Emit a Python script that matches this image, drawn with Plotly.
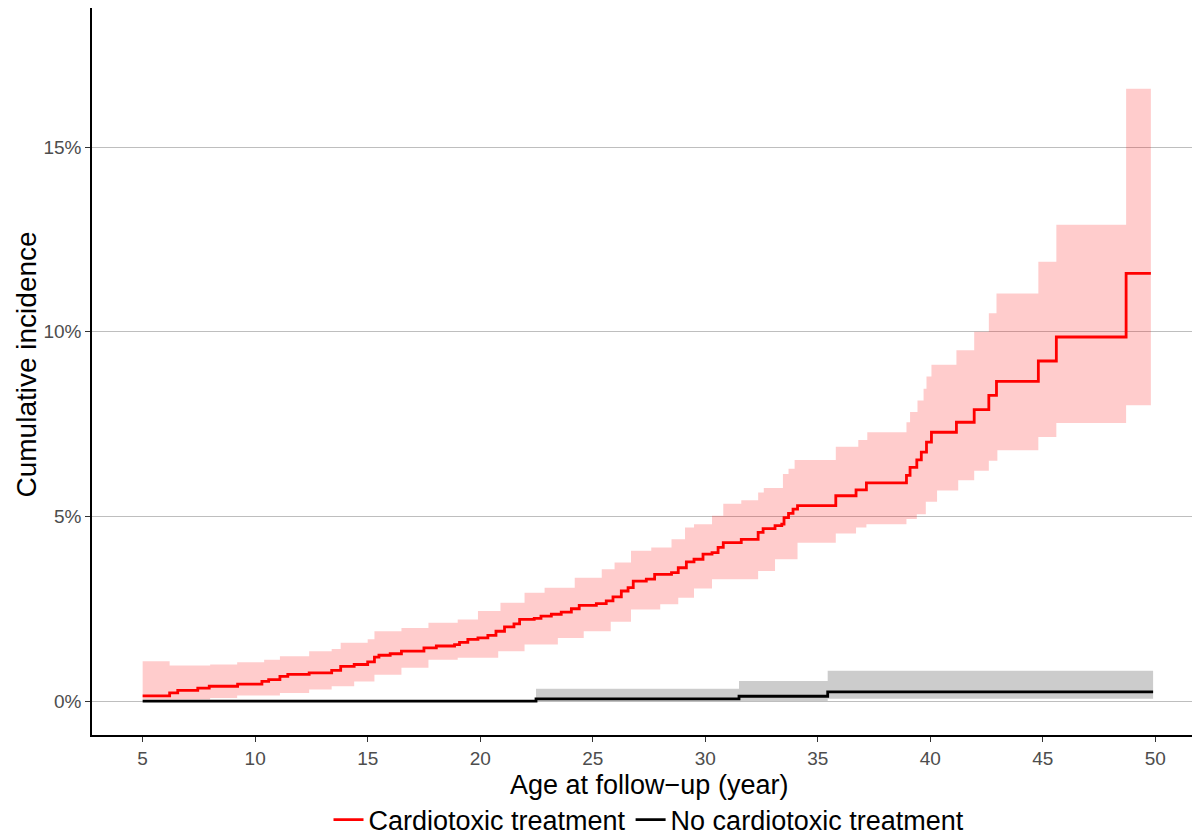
import plotly.graph_objects as go

# Cardiotoxic treatment: cumulative incidence (%) step function
ct_time = [5.0, 6.2, 6.56, 7.45, 7.96, 9.22, 10.3, 10.6, 11.1, 11.45, 12.4, 13.4, 13.8, 14.4, 15.0,
           15.3, 15.5, 16.0, 16.5, 17.5, 18.05, 18.86, 19.08, 19.45, 19.9, 20.34, 20.7, 21.08, 21.5,
           21.75, 22.4, 22.7, 23.16, 23.6, 24.05, 24.4, 25.16, 25.6, 25.9, 26.27, 26.57, 26.8, 27.38,
           27.75, 28.5, 28.8, 29.16, 29.5, 29.9, 30.3, 30.57, 30.8, 31.6, 32.35, 32.57, 33.1, 33.4,
           33.5, 33.7, 33.9, 34.1, 35.8, 36.7, 37.16, 38.94, 39.1, 39.4, 39.6, 39.83, 40.05, 41.16,
           41.95, 42.6, 42.94, 44.8, 45.6, 48.7, 49.8]
ct_est = [0.14, 0.22, 0.29, 0.35, 0.40, 0.46, 0.53, 0.58, 0.67, 0.72, 0.76, 0.83, 0.94, 0.99, 1.06,
          1.19, 1.24, 1.28, 1.35, 1.44, 1.49, 1.53, 1.59, 1.67, 1.71, 1.78, 1.89, 2.01, 2.09,
          2.21, 2.24, 2.30, 2.35, 2.41, 2.50, 2.59, 2.64, 2.71, 2.82, 2.98, 3.07, 3.25, 3.30,
          3.43, 3.48, 3.61, 3.77, 3.84, 3.98, 4.02, 4.16, 4.29, 4.38, 4.57, 4.67, 4.75, 4.79,
          4.97, 5.08, 5.20, 5.29, 5.56, 5.72, 5.91, 6.11, 6.33, 6.53, 6.74, 7.01, 7.28, 7.55,
          7.89, 8.28, 8.66, 9.21, 9.86, 11.58, 11.58]

ct_up_time = [5.0, 6.2, 8.0, 9.2, 10.4, 11.1, 12.4, 13.4, 13.8, 15.0, 15.3, 16.5, 17.7, 19.0, 19.9,
              20.9, 21.97, 22.86, 24.2, 25.4, 25.97, 26.7, 27.6, 28.5, 29.1, 29.5, 30.3, 30.8, 31.6,
              32.35, 32.6, 33.45, 33.7, 33.97, 35.8, 36.8, 37.2, 38.94, 39.1, 39.43, 39.7, 39.83,
              40.05, 41.16, 41.95, 42.6, 42.94, 44.8, 45.6, 48.7, 49.8]
ct_upper = [1.08, 0.96, 0.99, 1.05, 1.12, 1.21, 1.35, 1.41, 1.58, 1.67, 1.89, 1.98, 2.12, 2.21, 2.44,
            2.66, 2.93, 3.07, 3.34, 3.57, 3.75, 4.07, 4.16, 4.38, 4.70, 4.79, 5.02, 5.34, 5.44,
            5.65, 5.77, 6.15, 6.29, 6.53, 6.89, 7.07, 7.28, 7.55, 7.83, 8.14, 8.46, 8.79,
            9.11, 9.50, 10.0, 10.50, 11.04, 11.9, 12.9, 16.58, 16.58]

ct_lo_time = [5.0, 8.0, 9.2, 11.1, 12.4, 13.4, 14.4, 15.3, 16.5, 17.7, 19.0, 20.8, 21.97, 23.45,
              24.6, 25.8, 26.7, 28.0, 28.8, 29.5, 30.3, 32.35, 33.1, 34.1, 35.8, 36.7, 37.16,
              38.94, 39.4, 39.8, 40.3, 41.24, 41.95, 42.6, 42.98, 44.8, 45.6, 48.7, 49.8]
ct_lower = [0.04, 0.08, 0.15, 0.22, 0.31, 0.40, 0.53, 0.71, 0.90, 1.12, 1.17, 1.35, 1.53, 1.71,
            1.89, 2.15, 2.48, 2.62, 2.80, 3.05, 3.30, 3.52, 3.84, 4.29, 4.54, 4.70, 4.79,
            4.93, 5.06, 5.40, 5.70, 5.98, 6.24, 6.51, 6.79, 7.15, 7.53, 8.01, 8.01]

# No cardiotoxic treatment
nct_time = [5.0, 22.48, 31.5, 35.44, 49.9]
nct_est = [0.0, 0.06, 0.13, 0.25, 0.25]
nct_upper = [0.0, 0.33, 0.54, 0.82, 0.82]
nct_lower = [0.0, 0.0, 0.0, 0.06, 0.06]

x_ticks = [5, 10, 15, 20, 25, 30, 35, 40, 45, 50]
y_ticks = [0, 5, 10, 15]
y_ticklabels = ["0%", "5%", "10%", "15%"]

FONT = "Liberation Sans, Arial, sans-serif"

fig = go.Figure()

# ribbons
fig.add_trace(go.Scatter(x=ct_lo_time, y=ct_lower, mode="lines", line=dict(width=0, shape="hv"),
                         showlegend=False, hoverinfo="skip"))
fig.add_trace(go.Scatter(x=ct_up_time, y=ct_upper, mode="lines", line=dict(width=0, shape="hv"),
                         fill="tonexty", fillcolor="rgba(255,0,0,0.2)", showlegend=False, hoverinfo="skip"))
fig.add_trace(go.Scatter(x=nct_time, y=nct_lower, mode="lines", line=dict(width=0, shape="hv"),
                         showlegend=False, hoverinfo="skip"))
fig.add_trace(go.Scatter(x=nct_time, y=nct_upper, mode="lines", line=dict(width=0, shape="hv"),
                         fill="tonexty", fillcolor="rgba(0,0,0,0.2)", showlegend=False, hoverinfo="skip"))

# lines
fig.add_trace(go.Scatter(x=ct_time, y=ct_est, mode="lines", name="Cardiotoxic treatment",
                         line=dict(color="#FF0000", width=2.8, shape="hv")))
fig.add_trace(go.Scatter(x=nct_time, y=nct_est, mode="lines", name="No cardiotoxic treatment",
                         line=dict(color="#000000", width=2.8, shape="hv")))

fig.update_layout(
    width=1200, height=840,
    margin=dict(l=84, r=2, t=0, b=113, autoexpand=False),
    paper_bgcolor="white", plot_bgcolor="white",
    font=dict(family=FONT, color="#000000"),
    showlegend=True,
    legend=dict(orientation="h", x=0.5, xanchor="center", y=-0.117, yanchor="middle",
                traceorder="normal", font=dict(size=27, color="#000000"),
                itemwidth=30, tracegroupgap=0),
    annotations=[
        dict(text="Age at follow\u2212up (year)", xref="paper", yref="paper", x=0.5, y=-0.0455,
             xanchor="center", yanchor="top", showarrow=False,
             font=dict(size=27, color="#000000", family=FONT)),
        dict(text="Cumulative incidence", xref="paper", yref="paper", x=-0.059, y=0.51,
             xanchor="center", yanchor="middle", showarrow=False, textangle=-90,
             font=dict(size=28, color="#000000", family=FONT)),
    ],
)
fig.update_xaxes(
    range=[2.75, 52.25], tickvals=x_ticks, showgrid=False, zeroline=False, automargin=False,
    showline=True, linecolor="#000000", linewidth=1.5,
    ticks="outside", ticklen=5, tickcolor="#333333", tickwidth=1,
    tickfont=dict(size=19, color="#4D4D4D", family=FONT),
)
fig.update_yaxes(
    range=[-0.92, 18.77], tickvals=y_ticks, ticktext=y_ticklabels, showgrid=True,
    gridcolor="#BEBEBE", gridwidth=1, zeroline=False, automargin=False,
    showline=True, linecolor="#000000", linewidth=1.5,
    ticks="outside", ticklen=5, tickcolor="#333333", tickwidth=1,
    tickfont=dict(size=19, color="#4D4D4D", family=FONT),
)

fig.write_html("out.html")
